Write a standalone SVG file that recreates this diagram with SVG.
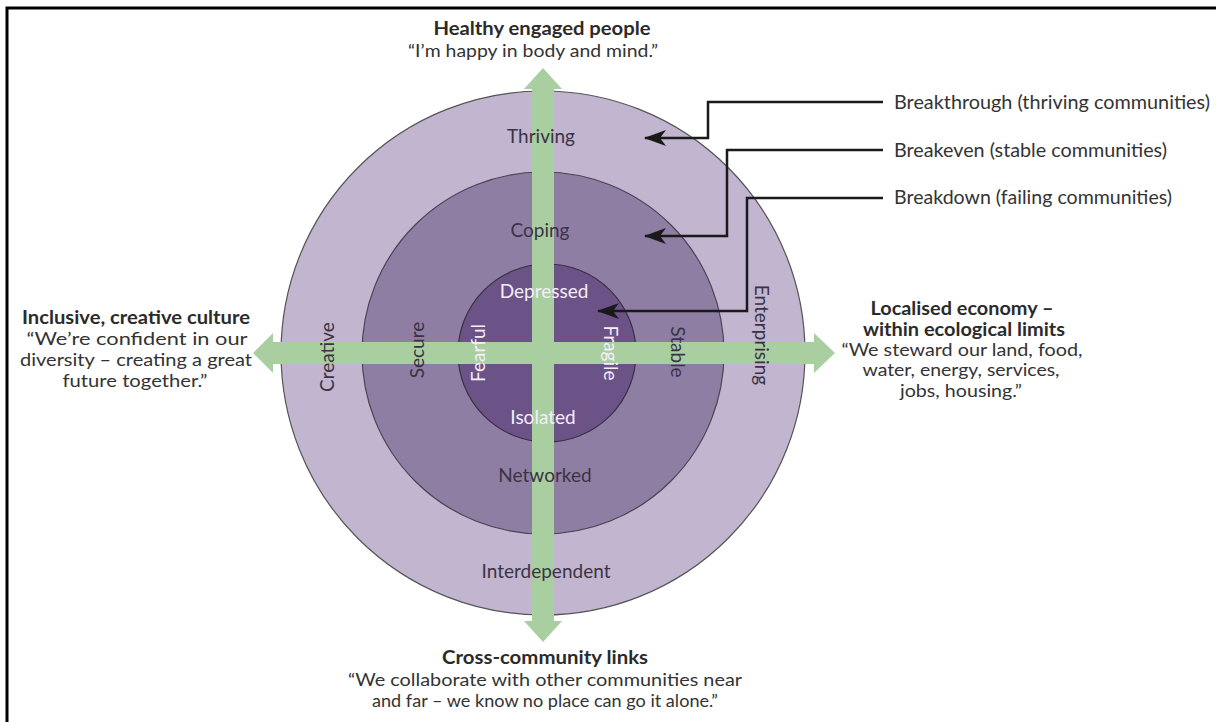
<svg xmlns="http://www.w3.org/2000/svg" width="1216" height="722" viewBox="0 0 1216 722">
<defs>
<style>
.t{font-family:Lato,"Liberation Sans",sans-serif;font-size:18px;fill:#333;text-anchor:middle}
.b{font-weight:bold;fill:#2b2b2b}
.r{font-family:Lato,"Liberation Sans",sans-serif;font-size:19px;fill:#333;text-anchor:start}
.ring{font-family:Lato,"Liberation Sans",sans-serif;font-size:19px;fill:#3b3344;text-anchor:middle}
.w{fill:#f3eef7}
.lead{fill:none;stroke:#1a1a1a;stroke-width:2.5}
</style>
<marker id="ah" viewBox="0 0 22 16" refX="21" refY="8" markerWidth="22" markerHeight="16" orient="auto" markerUnits="userSpaceOnUse">
<path d="M0,0 L22,8 L0,16 L6,8 z" fill="#1a1a1a"/>
</marker>
</defs>
<rect width="1216" height="722" fill="#fff"/>
<path d="M7,722 V8 H1216" fill="none" stroke="#000" stroke-width="3"/>

<g id="rings">
<circle id="outer" cx="543" cy="353" r="262" fill="#c1b5cf" stroke="#555" stroke-width="1.2"/>
<circle id="middle" cx="543" cy="353" r="181" fill="#8f7ea4" stroke="#4a4452" stroke-width="1.2"/>
<circle id="inner" cx="547" cy="353" r="89" fill="#6b5387" stroke="#3a3044" stroke-width="1.2"/>
</g>

<g id="axes" fill="#a9cfa1">
<polygon points="532,89 524,89 543,68 562,89 554,89 554,621 562,621 543,642 524,621 532,621"/>
<polygon points="273,342 273,333 253,353 273,373 273,364 814,364 814,373 835,353 814,333 814,342"/>
</g>

<g id="ring-labels">
<text class="ring" x="541" y="143">Thriving</text>
<text class="ring" x="540" y="237">Coping</text>
<text class="ring w" x="544" y="298">Depressed</text>
<text class="ring w" x="543" y="424">Isolated</text>
<text class="ring" x="545" y="482">Networked</text>
<text class="ring" x="546" y="578">Interdependent</text>
<text class="ring" transform="translate(334,357) rotate(-90)">Creative</text>
<text class="ring" transform="translate(424,350) rotate(-90)">Secure</text>
<text class="ring w" transform="translate(485,353) rotate(-90)">Fearful</text>
<text class="ring w" transform="translate(604,353) rotate(90)">Fragile</text>
<text class="ring" transform="translate(671,352) rotate(90)">Stable</text>
<text class="ring" transform="translate(755,335) rotate(90)">Enterprising</text>
</g>

<g id="connectors">
<path class="lead" d="M883,102 H708 V138 H645" marker-end="url(#ah)"/>
<path class="lead" d="M883,150 H727 V236 H645" marker-end="url(#ah)"/>
<path class="lead" d="M883,198 H747 V311 H598" marker-end="url(#ah)"/>
</g>

<g id="legend">
<text class="r" x="894" y="109" textLength="316" lengthAdjust="spacingAndGlyphs">Breakthrough (thriving communities)</text>
<text class="r" x="894" y="157" textLength="273" lengthAdjust="spacingAndGlyphs">Breakeven (stable communities)</text>
<text class="r" x="894" y="204" textLength="278" lengthAdjust="spacingAndGlyphs">Breakdown (failing communities)</text>
</g>

<g id="top">
<text class="t b" x="542" y="35" textLength="217" lengthAdjust="spacingAndGlyphs">Healthy engaged people</text>
<text class="t" x="533" y="57" textLength="250" lengthAdjust="spacingAndGlyphs">“I’m happy in body and mind.”</text>
</g>

<g id="left">
<text class="t b" x="136" y="324" textLength="228" lengthAdjust="spacingAndGlyphs">Inclusive, creative culture</text>
<text class="t" x="137" y="345" textLength="221" lengthAdjust="spacingAndGlyphs">“We’re confident in our</text>
<text class="t" x="136" y="366" textLength="232" lengthAdjust="spacingAndGlyphs">diversity – creating a great</text>
<text class="t" x="135" y="387" textLength="145" lengthAdjust="spacingAndGlyphs">future together.”</text>
</g>

<g id="right">
<text class="t b" x="962" y="315" textLength="183" lengthAdjust="spacingAndGlyphs">Localised economy –</text>
<text class="t b" x="964" y="336" textLength="202" lengthAdjust="spacingAndGlyphs">within ecological limits</text>
<text class="t" x="962" y="356" textLength="241" lengthAdjust="spacingAndGlyphs">“We steward our land, food,</text>
<text class="t" x="961" y="376" textLength="197" lengthAdjust="spacingAndGlyphs">water, energy, services,</text>
<text class="t" x="961" y="397" textLength="122" lengthAdjust="spacingAndGlyphs">jobs, housing.”</text>
</g>

<g id="bottom">
<text class="t b" x="545" y="664" textLength="206" lengthAdjust="spacingAndGlyphs">Cross-community links</text>
<text class="t" x="545" y="686" textLength="394" lengthAdjust="spacingAndGlyphs">“We collaborate with other communities near</text>
<text class="t" x="545" y="707" textLength="346" lengthAdjust="spacingAndGlyphs">and far – we know no place can go it alone.”</text>
</g>
</svg>
